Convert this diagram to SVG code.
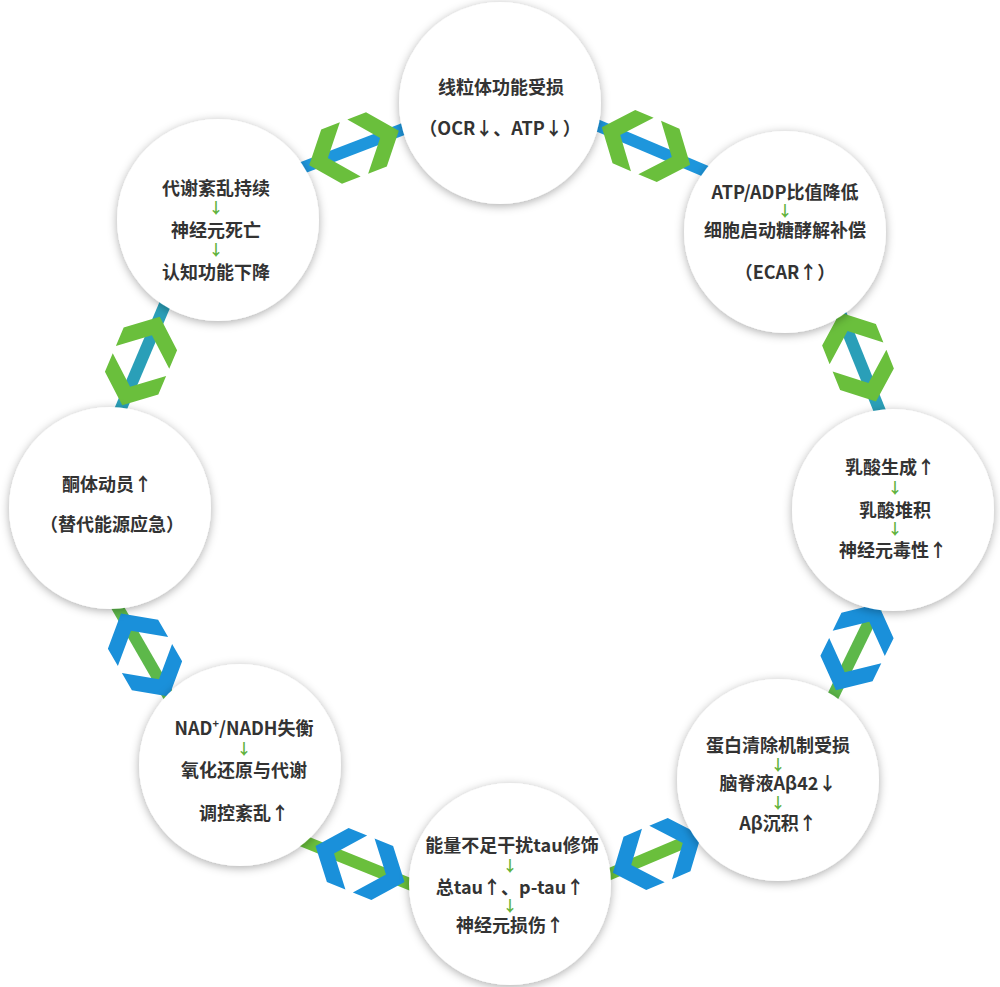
<svg xmlns="http://www.w3.org/2000/svg" width="1000" height="987" viewBox="0 0 1000 987">
<style>
.t{font-family:"Noto Sans CJK SC","Noto Sans",sans-serif;font-size:18px;font-weight:700;fill:#333;text-anchor:middle}
.a{font-family:"Noto Sans CJK SC","Noto Sans",sans-serif;font-size:15px;font-weight:700;fill:#5fb33c;text-anchor:middle}
.node{fill:#fff;filter:url(#sh)}
.lb{stroke:#1e96dc;stroke-width:12}
.lt{stroke:#2a9fb8;stroke-width:12}
.lg{stroke:#5db84a;stroke-width:12}
.cg{fill:#6abf3c}
.cb{fill:#1a90da}
</style>
<defs>
<filter id="sh" x="-20%" y="-20%" width="140%" height="140%">
<feDropShadow dx="0" dy="2" stdDeviation="5" flood-color="#000" flood-opacity="0.32"/>
</filter>
<polygon id="chev" points="48,0 24,-29 4,-29 28,0 4,29 24,29"/>
</defs>
<g id="connectors">
<g transform="translate(354,148) rotate(-21)"><line class="lb" x1="-75" y1="0" x2="75" y2="0"/><use href="#chev" class="cg"/><use href="#chev" class="cg" transform="scale(-1,1)"/></g>
<g transform="translate(646,146) rotate(23)"><line class="lb" x1="-75" y1="0" x2="75" y2="0"/><use href="#chev" class="cg"/><use href="#chev" class="cg" transform="scale(-1,1)"/></g>
<g transform="translate(858,357) rotate(68)"><line class="lt" x1="-75" y1="0" x2="75" y2="0"/><use href="#chev" class="cg"/><use href="#chev" class="cg" transform="scale(-1,1)"/></g>
<g transform="translate(857,647) rotate(116)"><line class="lg" x1="-75" y1="0" x2="75" y2="0"/><use href="#chev" class="cb"/><use href="#chev" class="cb" transform="scale(-1,1)"/></g>
<g transform="translate(657,854) rotate(-23)"><line class="lg" x1="-75" y1="0" x2="75" y2="0" style="stroke:#6abf3c"/><use href="#chev" class="cb"/><use href="#chev" class="cb" transform="scale(-1,1)"/></g>
<g transform="translate(360,864) rotate(22)"><line class="lg" x1="-75" y1="0" x2="75" y2="0" style="stroke:#6abf3c"/><use href="#chev" class="cb"/><use href="#chev" class="cb" transform="scale(-1,1)"/></g>
<g transform="translate(145,655) rotate(60)"><line class="lg" x1="-75" y1="0" x2="75" y2="0"/><use href="#chev" class="cb"/><use href="#chev" class="cb" transform="scale(-1,1)"/></g>
<g transform="translate(141,361) rotate(113)"><line class="lt" x1="-75" y1="0" x2="75" y2="0"/><use href="#chev" class="cg"/><use href="#chev" class="cg" transform="scale(-1,1)"/></g>
</g>
<g id="n1"><circle class="node" cx="500" cy="103" r="101"/>
<text class="t" x="501" y="94">线粒体功能受损</text>
<text class="t" x="500" y="135">（OCR↓、ATP↓）</text></g>
<g id="n2"><circle class="node" cx="785" cy="232" r="101"/>
<text class="t" x="785" y="199">ATP/ADP比值降低</text>
<text class="a" x="785" y="216">↓</text>
<text class="t" x="785" y="237">细胞启动糖酵解补偿</text>
<text class="t" x="785" y="279">（ECAR↑）</text></g>
<g id="n3"><circle class="node" cx="893" cy="510" r="101"/>
<text class="t" x="890" y="474">乳酸生成↑</text>
<text class="a" x="895" y="493">↓</text>
<text class="t" x="895" y="517">乳酸堆积</text>
<text class="a" x="895" y="534">↓</text>
<text class="t" x="893" y="557">神经元毒性↑</text></g>
<g id="n4"><circle class="node" cx="778" cy="780" r="101"/>
<text class="t" x="778" y="752">蛋白清除机制受损</text>
<text class="a" x="778" y="770">↓</text>
<text class="t" x="778" y="790">脑脊液Aβ42↓</text>
<text class="a" x="778" y="808">↓</text>
<text class="t" x="778" y="830">Aβ沉积↑</text></g>
<g id="n5"><circle class="node" cx="510" cy="884" r="101"/>
<text class="t" x="512" y="852">能量不足干扰tau修饰</text>
<text class="a" x="510" y="871">↓</text>
<text class="t" x="510" y="894">总tau↑、p-tau↑</text>
<text class="a" x="510" y="911">↓</text>
<text class="t" x="510" y="932">神经元损伤↑</text></g>
<g id="n6"><circle class="node" cx="240" cy="765" r="101"/>
<text class="t" x="244" y="735">NAD<tspan font-size="11" dy="-7">+</tspan><tspan dy="7">/NADH失衡</tspan></text>
<text class="a" x="244" y="754">↓</text>
<text class="t" x="244" y="777">氧化还原与代谢</text>
<text class="t" x="244" y="820">调控紊乱↑</text></g>
<g id="n7"><circle class="node" cx="110" cy="508" r="101"/>
<text class="t" x="107" y="491">酮体动员↑</text>
<text class="t" x="112" y="531">（替代能源应急）</text></g>
<g id="n8"><circle class="node" cx="218" cy="220" r="101"/>
<text class="t" x="216" y="195">代谢紊乱持续</text>
<text class="a" x="216" y="213">↓</text>
<text class="t" x="216" y="237">神经元死亡</text>
<text class="a" x="216" y="255">↓</text>
<text class="t" x="216" y="279">认知功能下降</text></g>
</svg>
